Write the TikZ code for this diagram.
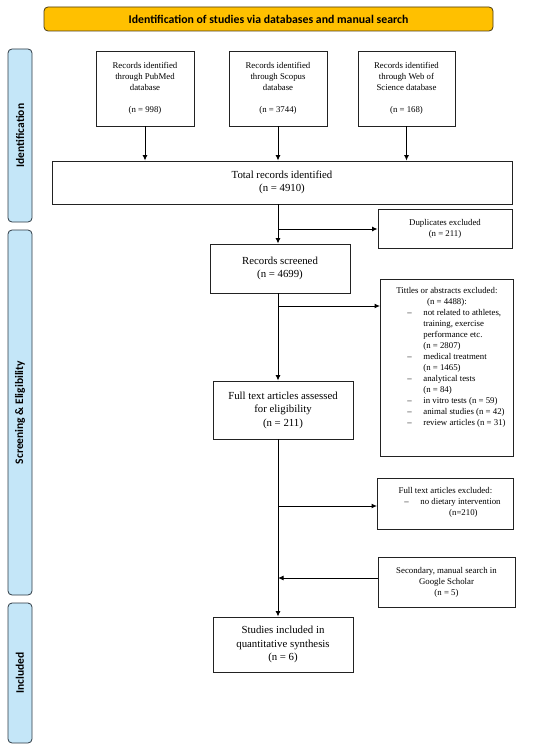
\documentclass[tikz,border=0pt]{standalone}
\usepackage{fontspec}
\setmainfont{Liberation Serif}
\newfontfamily\labfont{Carlito}
\usetikzlibrary{arrows.meta}
\definecolor{bannerfill}{HTML}{FFC000}
\definecolor{bannerdraw}{HTML}{4A3A10}
\definecolor{bandfill}{HTML}{C4E6F8}
\definecolor{banddraw}{HTML}{2E3A44}
\definecolor{boxdraw}{HTML}{222222}
\newcommand\myitem[1]{\par\noindent\hspace*{27pt}\makebox[16pt][l]{--}#1}
\newcommand\mycont[1]{\par\noindent\hspace*{43pt}#1}
\tikzset{
  smallbox/.style={draw=boxdraw, line width=0.8pt, inner sep=0pt, align=center,
    font=\fontsize{8.8}{11}\selectfont},
  mainbox/.style={draw=boxdraw, line width=0.8pt, inner sep=0pt, align=center,
    font=\fontsize{10.8}{13.6}\selectfont},
  band/.style={draw=banddraw, fill=bandfill, line width=0.8pt, rounded corners=4pt,
    minimum width=24pt, inner sep=0pt, font=\labfont\bfseries\fontsize{11.5}{13}\selectfont},
  arr/.style={line width=1pt, -{Latex[length=5.5pt,width=5pt]}},
}
\begin{document}
\begin{tikzpicture}[x=1pt,y=-1pt]
\useasboundingbox (0,0) rectangle (550,749);
% banner
\node[draw=bannerdraw, fill=bannerfill, line width=0.8pt, rounded corners=4pt,
  minimum width=449pt, minimum height=24pt, inner sep=0pt,
  font=\labfont\bfseries\fontsize{11.8}{13}\selectfont] (banner) at (268.5,19)
  {Identification of studies via databases and manual search};
% side bands
\node[band, minimum height=173pt] (bandid) at (20,135.5) {\rotatebox{90}{Identification}};
\node[band, minimum height=365pt] (bandsc) at (20,412.5) {\rotatebox{90}{Screening \& Eligibility}};
\node[band, minimum height=140pt] (bandin) at (20,673) {\rotatebox{90}{Included}};
% database boxes
\node[smallbox, minimum width=98pt, minimum height=75pt] (pubmed) at (145,88.5)
  {Records identified\\through PubMed\\database\\[11pt](n = 998)};
\node[smallbox, minimum width=98pt, minimum height=75pt] (scopus) at (278,88.5)
  {Records identified\\through Scopus\\database\\[11pt](n = 3744)};
\node[smallbox, minimum width=97pt, minimum height=75pt] (wos) at (406.5,88.5)
  {Records identified\\through Web of\\Science database\\[11pt](n = 168)};
% main boxes
\node[mainbox, minimum width=460pt, minimum height=43pt] (total) at (282,182.5)
  {Total records identified\\(n = 4910)};
\node[mainbox, minimum width=140pt, minimum height=49pt] (screened) at (280,268.5)
  {Records screened\\(n = 4699)};
\node[mainbox, minimum width=140pt, minimum height=58pt] (fulltext) at (283,410)
  {Full text articles assessed\\for eligibility\\(n = 211)};
\node[mainbox, minimum width=140pt, minimum height=55pt] (studies) at (283,644.5)
  {Studies included in\\quantitative synthesis\\(n = 6)};
% side boxes
\node[smallbox, minimum width=134pt, minimum height=39pt] (dup) at (445,228.5)
  {Duplicates excluded\\(n = 211)};
\node[draw=boxdraw, line width=0.8pt, inner sep=0pt, anchor=north west] (titles) at (380,279)
  {\parbox[t][177pt][t]{133pt}{\fontsize{8.8}{11}\selectfont\vspace*{8.3pt}%
  \centering Tittles or abstracts excluded:\\(n = 4488):\par\raggedright
  \myitem{not related to athletes,}
  \mycont{training, exercise}
  \mycont{performance etc.}
  \mycont{(n = 2807)}
  \myitem{medical treatment}
  \mycont{(n = 1465)}
  \myitem{analytical tests}
  \mycont{(n = 84)}
  \myitem{in vitro tests (n = 59)}
  \myitem{animal studies (n = 42)}
  \myitem{review articles (n = 31)}\par}};
\node[draw=boxdraw, line width=0.8pt, inner sep=0pt, anchor=north west] (ftexcl) at (377,478)
  {\parbox[t][51pt][t]{136pt}{\fontsize{8.8}{11}\selectfont\vspace*{9pt}%
  \centering Full text articles excluded:\par\raggedright
  \myitem{no dietary intervention}
  \par\noindent\hspace*{46pt}\makebox[80pt][c]{(n=210)}\par}};
\node[smallbox, minimum width=137pt, minimum height=50pt] (secondary) at (446.5,582)
  {Secondary, manual search in\\Google Scholar\\(n = 5)};
% connectors
\coordinate (spine) at (278,0);
\draw[arr] (pubmed.south) -- (pubmed.south |- total.north);
\draw[arr] (scopus.south) -- (scopus.south |- total.north);
\draw[arr] (wos.south) -- (wos.south |- total.north);
\draw[arr] (total.south -| spine) -- (screened.north -| spine);
\coordinate (b1) at (278,229);
\draw[arr] (b1) -- (b1 -| dup.west);
\draw[arr] (screened.south -| spine) -- (fulltext.north -| spine);
\coordinate (b2) at (278,306);
\draw[arr] (b2) -- (b2 -| titles.west);
\draw[arr] (fulltext.south -| spine) -- (studies.north -| spine);
\coordinate (b3) at (278,506);
\draw[arr] (b3) -- (b3 -| ftexcl.west);
\coordinate (b4) at (278,578);
\draw[arr] (b4 -| secondary.west) -- (b4);
\end{tikzpicture}
\end{document}
